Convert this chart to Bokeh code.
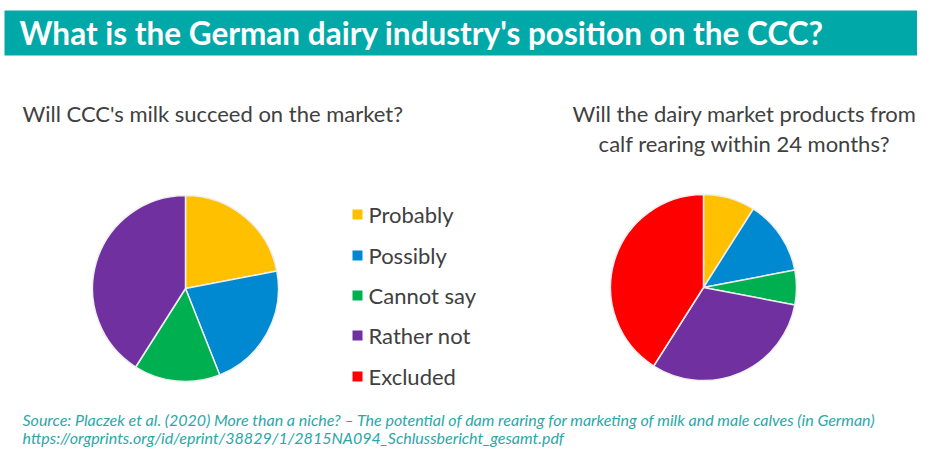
import math
from bokeh.plotting import figure
from bokeh.models import Range1d, ColumnDataSource
from bokeh.core.properties import value
from bokeh.embed import file_html
from bokeh.resources import INLINE

# ---- data ----
categories = ["Probably", "Possibly", "Cannot say", "Rather not", "Excluded"]
colors = ["#FFC000", "#0089D1", "#00B050", "#7030A0", "#FF0000"]
milk_success = [22, 22, 15, 41, 0]          # Will CCC's milk succeed on the market?
calf_products = [9, 13, 6, 31, 41]          # Will the dairy market products from calf rearing ...

title = "What is the German dairy industry's position on the CCC?"
sub_left = "Will CCC's milk succeed on the market?"
sub_right = ["Will the dairy market products from", "calf rearing within 24 months?"]
source_lines = [
    "Source: Placzek  et al. (2020) More than a niche? \u2013 The potential of dam rearing for marketing of milk and male calves (in German)",
    "https://orgprints.org/id/eprint/38829/1/2815NA094_Schlussbericht_gesamt.pdf",
]

W, H = 917, 449
FONT = "Lato"
TEXTC = "#404040"


def X(rx):
    return rx


def Y(ry):
    return H - ry


p = figure(width=W, height=H, output_backend="svg", toolbar_location=None,
           x_range=Range1d(0, W), y_range=Range1d(0, H), min_border=0)
p.axis.visible = False
p.grid.visible = False
p.outline_line_color = None
p.background_fill_color = "white"
p.border_fill_color = "white"

# title bar
p.quad(left=X(4), right=W + 5, top=Y(10), bottom=Y(55), fill_color="#00A9A8", line_color=None)
p.text(x=[X(19)], y=[Y(32)], text=[title], text_color="white", text_font=value(FONT),
       text_font_style="bold", text_font_size="31.5px", text_baseline="middle")

# subtitles
p.text(x=[X(22)], y=[Y(113)], text=[sub_left], text_color=TEXTC, text_font=value(FONT),
       text_font_size="22px", text_baseline="middle")
p.text(x=[X(744)] * 2, y=[Y(113), Y(143)], text=sub_right, text_color=TEXTC,
       text_font=value(FONT), text_font_size="22px", text_baseline="middle", text_align="center")


def pie(vals, cx, cy, r):
    tot = float(sum(vals))
    starts, ends, cols = [], [], []
    cum = 0.0
    for v, c in zip(vals, colors):
        if v <= 0:
            continue
        a0 = math.pi / 2 - 2 * math.pi * cum / tot
        cum += v
        a1 = math.pi / 2 - 2 * math.pi * cum / tot
        starts.append(a0)
        ends.append(a1)
        cols.append(c)
    src = ColumnDataSource(dict(start=starts, end=ends, color=cols))
    p.wedge(x=X(cx), y=Y(cy), radius=r, start_angle="start", end_angle="end",
            direction="clock", fill_color="color", line_color="#EEEEEE", line_width=1.5,
            source=src)


pie(milk_success, 185, 288, 93)
pie(calf_products, 703, 287, 93)

# legend
leg_y = [214, 255, 295, 335, 376]
p.rect(x=[X(357)] * 5, y=[Y(v) for v in leg_y], width=10, height=10, fill_color=colors,
       line_color=None)
p.text(x=[X(368)] * 5, y=[Y(v) for v in leg_y], text=categories, text_color=TEXTC,
       text_font=value(FONT), text_font_size="22px", text_baseline="middle")

# source
p.text(x=[X(22)] * 2, y=[Y(419), Y(437)], text=source_lines, text_color="#2AA8A8",
       text_font=value(FONT), text_font_style="italic", text_font_size="16px",
       text_baseline="middle")

open("out.html", "w").write(file_html(p, INLINE))
